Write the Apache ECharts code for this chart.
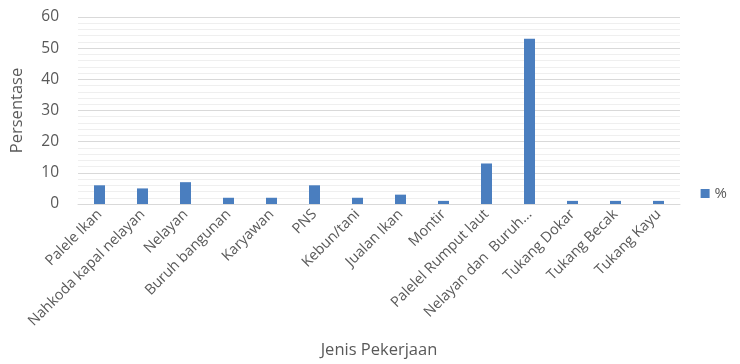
<!DOCTYPE html>
<html><head><meta charset="utf-8">
<script src="https://cdn.jsdelivr.net/npm/echarts@6/dist/echarts.min.js"></script>
<style>html,body{margin:0;padding:0;background:#fff}#c{width:740px;height:364px}</style>
</head><body><div id="c"></div>
<script>
const categories = ["Palele Ikan","Nahkoda kapal nelayan","Nelayan","Buruh bangunan","Karyawan","PNS","Kebun/tani","Jualan Ikan","Montir","Palelel Rumput laut","Nelayan dan  Buruh...","Tukang Dokar","Tukang Becak","Tukang Kayu"];
const values = [6,5,7,2,2,6,2,3,1,13,53,1,1,1];
const yTicks = [0,10,20,30,40,50,60];
const seriesName = "%";
const chart = echarts.init(document.getElementById('c'));
chart.setOption({
  animation:false,
  textStyle:{fontFamily:"Open Sans"},
  grid:{left:78,right:60,top:17,bottom:157,containLabel:false},
  legend:{show:true,right:8,top:181,itemWidth:9,itemHeight:9,itemGap:4,icon:'rect',
    textStyle:{color:'#595959',fontSize:15,fontFamily:"Open Sans"},data:[seriesName]},
  xAxis:{type:'category',data:categories,
    axisLine:{lineStyle:{color:'#d9d9d9'}},axisTick:{show:false},
    axisLabel:{rotate:45,interval:0,color:'#595959',fontSize:14.5,margin:8,fontFamily:"Open Sans"},
    name:'Jenis Pekerjaan',nameLocation:'middle',nameGap:138,
    nameTextStyle:{color:'#595959',fontSize:16.5,fontFamily:"Open Sans"}},
  yAxis:{type:'value',min:yTicks[0],max:yTicks[yTicks.length-1],interval:10,
    axisLine:{show:false},axisTick:{show:false},
    axisLabel:{color:'#595959',fontSize:15.5,margin:19,fontFamily:"Open Sans"},
    splitLine:{lineStyle:{color:'#d9d9d9'}},
    minorTick:{show:false,splitNumber:5},
    minorSplitLine:{show:true,lineStyle:{color:'#efefef'}},
    name:'Persentase',nameLocation:'middle',nameGap:52,
    nameTextStyle:{color:'#595959',fontSize:16.5,fontFamily:"Open Sans"}},
  series:[{name:seriesName,type:'bar',data:values,barWidth:11,itemStyle:{color:'#4a7ebf'}}]
});
</script></body></html>
